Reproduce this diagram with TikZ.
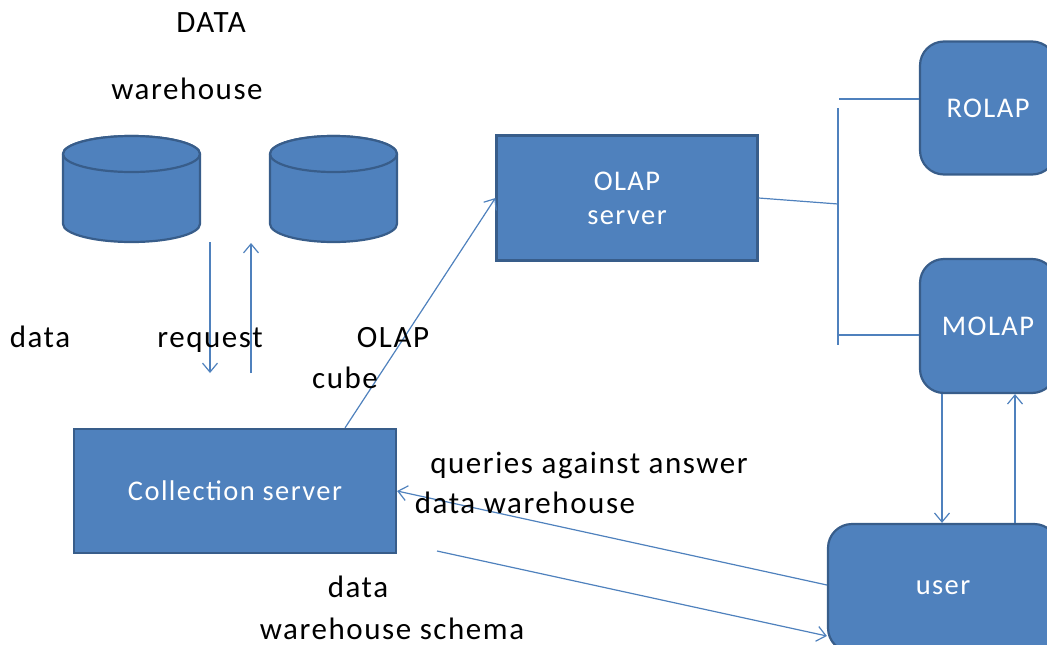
\documentclass[tikz,border=0pt]{standalone}
\usepackage{fontspec}
\setmainfont{Carlito}[LetterSpace=5.0]
\usepackage{xcolor}
\usetikzlibrary{arrows.meta, positioning}

\definecolor{boxblue}{HTML}{4F81BD}
\definecolor{boxedge}{HTML}{385D8A}

\tikzset{
  shade box/.style={draw=boxedge, fill=boxblue, line width=2.2pt},
  bluebox/.style={shade box, text=white,
    font=\fontsize{28.5}{34}\selectfont, align=center, inner sep=0pt},
  server/.style={bluebox, rectangle},
  client/.style={bluebox, rounded corners=24pt},
  pics/dbstore/.style={code={
    \draw[shade box] (-#1,-35) -- (-#1,35)
      arc[start angle=180, end angle=0, x radius=#1, y radius=18]
      -- (#1,-35) arc[start angle=0, end angle=-180, x radius=#1, y radius=18] -- cycle;
    \draw[shade box] (0,-35) ellipse[x radius=#1, y radius=18];
  }},
  link/.style={draw=boxblue, line width=1.2pt},
  flow/.style={link, -{Straight Barb[length=9pt, width=15pt, line width=1.2pt]}},
  lbl/.style={anchor=base, font=\fontsize{31}{33}\selectfont}
}

\begin{document}
\begin{tikzpicture}[x=1pt, y=-1pt]
\useasboundingbox (0,0) rectangle (1047,645);
\clip (0,0) rectangle (1047,645);

% data warehouse stores
\pic (storeA) at (131.5,189) {dbstore=68.5};
\pic (storeB) at (333.5,189) {dbstore=63.5};

% servers
\node[server, minimum width=322pt, minimum height=124pt] (collect) at (235,491) {Collection server};
\node[server, minimum width=261pt, minimum height=125pt] (olap) at (627,198) {OLAP\\server};

% clients
\node[client, minimum width=136pt, minimum height=133pt] (rolap) at (988,108) {ROLAP};
\node[client, minimum width=136pt, minimum height=134pt] (molap) at (988,326) {MOLAP};
\node[client, minimum width=230pt, minimum height=128pt] (user) at (943,588) {user};

% free ends
\coordinate (reqTop) at (210,242);
\coordinate (reqBot) at (210,373);
\coordinate (ansBot) at (251,373);
\coordinate (ansTop) at (251,243);
\coordinate (hub) at (838,204);
\coordinate (busTop) at (838,108);
\coordinate (busBot) at (838,345);
\coordinate (rolapTap) at (839,99);
\coordinate (molapTap) at (839,335);
\coordinate (schemaSrc) at (437,551);

% connectors
\draw[flow] (reqTop) -- (reqBot);
\draw[flow] (ansBot) -- (ansTop);
\draw[flow] ([xshift=110pt]collect.north) -- (olap.west);
\draw[link] (olap.east) -- (hub);
\draw[link] (busTop) -- (busBot);
\draw[link] (rolapTap) -- ([yshift=9pt]rolap.west);
\draw[link] (molapTap) -- ([yshift=-9pt]molap.west);
\draw[flow] ([xshift=-46pt]molap.south) -- ([xshift=-1pt]user.north);
\draw[flow] ([xshift=72pt]user.north) -- ([xshift=27pt]molap.south);
\draw[flow] ([yshift=3pt]user.west) -- (collect.east);
\draw[flow] (schemaSrc) -- ([yshift=-48pt]user.west);

% labels
\node[lbl] (lDATA) at (211,32) {DATA};
\node[lbl] (lwh) at (187,99) {warehouse};
\node[lbl] (ldata) at (40,347) {data};
\node[lbl] (lreq) at (210,347) {request};
\node[lbl] (lolap) at (393,347) {OLAP};
\node[lbl] (lcube) at (345,388) {cube};
\node[lbl] (lquery) at (589,473) {queries against answer};
\node[lbl] (ldw) at (525,513) {data warehouse};
\node[lbl] (ldata2) at (358,597) {data};
\node[lbl] (lschema) at (392,639) {warehouse schema};
\end{tikzpicture}
\end{document}
